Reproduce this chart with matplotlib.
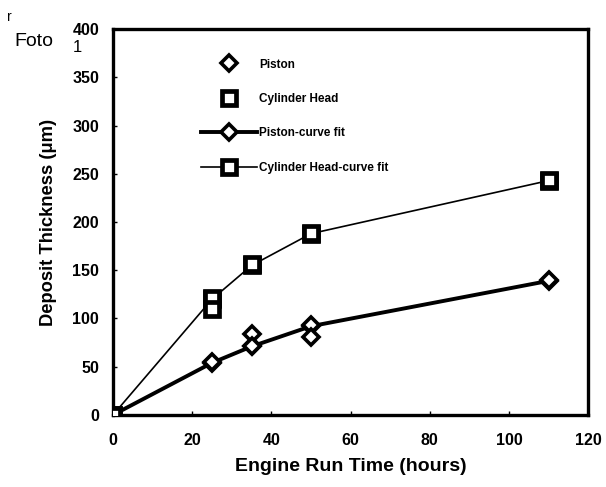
import matplotlib
matplotlib.use("Agg")
import matplotlib.pyplot as plt

# ---- data ----
piston_hours = [0, 25, 35, 35, 50, 50, 110]
piston_um = [0, 55, 84, 71, 93, 81, 140]
head_hours = [0, 25, 25, 35, 50, 110]
head_um = [0, 121, 110, 156, 189, 244]

fit_hours = [0, 25, 35, 50, 110]
piston_fit = [0, 54, 71, 92, 139]
head_fit = [0, 120, 155, 188, 243]

x_ticks = [0, 20, 40, 60, 80, 100, 120]
y_ticks = [0, 50, 100, 150, 200, 250, 300, 350, 400]

plt.rcParams["font.family"] = ["Liberation Sans", "DejaVu Sans"]

fig = plt.figure(figsize=(6.06, 4.87), dpi=100)
ax = fig.add_axes([0.1865, 0.148, 0.784, 0.792])

# curve fits
ax.plot(fit_hours, piston_fit, color="black", lw=2.8, marker="D", ms=8,
        mfc="white", mec="black", mew=2.6, label="Piston-curve fit", zorder=3)
ax.plot(fit_hours, head_fit, color="black", lw=1.2, marker="s", ms=10,
        mfc="white", mec="black", mew=3.4, label="Cylinder Head-curve fit", zorder=3)
# measured points
ax.plot(piston_hours, piston_um, ls="none", marker="D", ms=8, mfc="white",
        mec="black", mew=2.6, label="Piston", zorder=4)
ax.plot(head_hours, head_um, ls="none", marker="s", ms=10, mfc="white",
        mec="black", mew=3.4, label="Cylinder Head", zorder=4)

ax.set_xlim(0, 120)
ax.set_ylim(0, 400)
ax.set_xticks(x_ticks)
ax.set_yticks(y_ticks)
ax.tick_params(direction="in", length=3, width=1, labelsize=11.5)
ax.tick_params(axis="x", pad=13)
ax.tick_params(axis="y", pad=10)
for lab in ax.get_xticklabels() + ax.get_yticklabels():
    lab.set_fontweight("bold")
for sp in ax.spines.values():
    sp.set_linewidth(2.4)

ax.set_xlabel("Engine Run Time (hours)", fontsize=14, fontweight="bold", labelpad=7)
ax.set_ylabel("Deposit Thickness (\u03bcm)", fontsize=13.2, fontweight="bold", labelpad=11)

h, l = ax.get_legend_handles_labels()
order = [2, 3, 0, 1]
ax.legend([h[i] for i in order], [l[i] for i in order], loc="upper left",
          bbox_to_anchor=(0.185, 0.924), frameon=False,
          prop={"weight": "bold", "size": 8.5}, labelspacing=1.9,
          handlelength=4.75, handletextpad=0.15, borderpad=0, borderaxespad=0)

# handwritten note at top-left of the scan
fig.text(0.012, 0.98, "r", fontsize=10, va="top")
fig.text(0.024, 0.932, "Foto", fontsize=14, va="top")
fig.text(0.12, 0.918, "1", fontsize=12, va="top")

fig.savefig("out.png", dpi=100)
